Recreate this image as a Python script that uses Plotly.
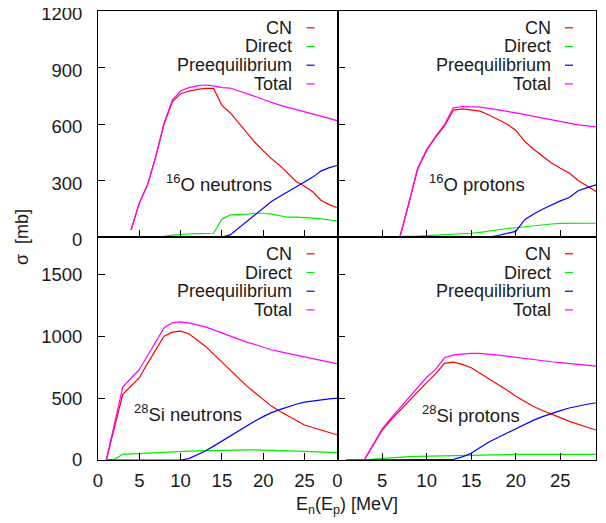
import plotly.graph_objects as go

# ---------------- data ----------------
E_O_n = list(range(4, 30))
O_n_CN = [37, 180, 277, 428, 600, 718, 761, 775, 784, 789, 789, 699, 660, 606, 553, 503,
          459, 416, 380, 340, 295, 270, 240, 195, 172, 155]
O_n_Direct = [0, 0, 0, 0, 3, 10, 14, 16, 18, 19, 20, 94, 117, 120, 121, 126,
              126, 121, 112, 105, 105, 104, 100, 96, 90, 85]
O_n_Pre = [0, 0, 0, 0, 0, 0, 0, 0, 0, 0, 0, 0, 11, 46, 82, 117,
           153, 188, 215, 242, 268, 292, 318, 350, 368, 381]
O_n_Total = [37, 180, 277, 428, 606, 727, 775, 793, 802, 807, 802, 793, 791, 777, 763, 747,
             730, 713, 700, 688, 677, 666, 655, 642, 630, 617]

E_O_p = list(range(4, 30))
O_p_CN = [0, 0, 0, 0, 178, 362, 460, 530, 590, 674, 680, 676, 668, 648, 624, 600,
          567, 508, 466, 428, 393, 365, 340, 300, 272, 242]
O_p_Direct = [0, 0, 2, 3, 4, 5, 7, 10, 13, 16, 18, 20, 25, 32, 40, 45,
              49, 55, 60, 66, 69, 72, 73, 73, 73, 73]
O_p_Pre = [0, 0, 0, 0, 0, 0, 0, 0, 0, 0, 0, 0, 0, 0, 8, 18,
           30, 92, 122, 147, 171, 192, 210, 246, 262, 277]
O_p_Total = [0, 0, 0, 0, 180, 366, 464, 535, 597, 686, 693, 693, 690, 683, 676, 668,
             659, 650, 641, 630, 620, 611, 603, 595, 590, 585]

E_Si_n = list(range(1, 30))
Si_n_CN = [0, 265, 530, 597, 664, 780, 895, 1000, 1032, 1040, 1019, 972, 919, 855, 790,
           722, 656, 598, 543, 488, 435, 393, 355, 318, 282, 262, 242, 222, 202]
Si_n_Direct = [0, 5, 46, 50, 54, 58, 62, 65, 68, 70, 72, 73, 75, 78, 80,
               83, 83, 82, 81, 80, 79, 77, 75, 72, 69, 66, 63, 61, 59]
Si_n_Pre = [0, 0, 0, 0, 0, 0, 0, 0, 0, 0, 11, 40, 73, 112, 153,
            196, 239, 278, 315, 350, 382, 407, 430, 450, 467, 478, 487, 494, 500]
Si_n_Total = [0, 295, 589, 660, 731, 842, 955, 1067, 1107, 1115, 1107, 1092, 1075, 1050, 1024,
              998, 973, 952, 932, 910, 890, 875, 860, 845, 830, 815, 802, 790, 777]

E_Si_p = list(range(1, 30))
Si_p_CN = [0, 0, 0, 120, 240, 325, 400, 478, 555, 625, 695, 780, 790, 772, 745,
           700, 660, 610, 565, 515, 470, 432, 400, 368, 342, 312, 288, 265, 242]
Si_p_Direct = [0, 0, 0, 7, 13, 20, 25, 28, 30, 32, 34, 36, 37, 38, 40,
               41, 42, 43, 44, 45, 46, 46, 46, 46, 46, 46, 46, 46, 46]
Si_p_Pre = [0, 0, 0, 0, 0, 0, 0, 0, 0, 0, 0, 0, 5, 25, 54,
            100, 145, 182, 218, 255, 290, 322, 350, 376, 398, 420, 437, 450, 462]
Si_p_Total = [0, 0, 0, 125, 250, 338, 420, 503, 585, 668, 731, 825, 848, 855, 860,
              860, 855, 847, 838, 828, 818, 808, 800, 793, 786, 779, 772, 765, 758]

series_names = ["CN", "Direct", "Preequilibrium", "Total"]
panel_labels = ["<sup>16</sup>O neutrons", "<sup>16</sup>O protons",
                "<sup>28</sup>Si neutrons", "<sup>28</sup>Si protons"]
label_pos = [(8, 288), (10, 288), (4.1, 381), (9.2, 369)]
top_ticks = [0, 300, 600, 900, 1200]
bottom_ticks = [0, 500, 1000, 1500]
x_ticks = [0, 5, 10, 15, 20, 25]

panels = [
    (E_O_n, [O_n_CN, O_n_Direct, O_n_Pre, O_n_Total]),
    (E_O_p, [O_p_CN, O_p_Direct, O_p_Pre, O_p_Total]),
    (E_Si_n, [Si_n_CN, Si_n_Direct, Si_n_Pre, Si_n_Total]),
    (E_Si_p, [Si_p_CN, Si_p_Direct, Si_p_Pre, Si_p_Total]),
]

colors = ["#ff0000", "#00ee00", "#0000ff", "#ff00ff"]

# ---------------- layout geometry (window pixels, page body has an 8px margin) ----------------
OFF = 8
W, H = 606 - OFF, 523 - OFF
FRAME_L, FRAME_R, FRAME_T, FRAME_B = 98, 596, 11, 460
SPLIT_X, SPLIT_Y = 337.5, 237
ML, MR, MT, MB = FRAME_L - OFF, W - (FRAME_R - OFF), FRAME_T - OFF, H - (FRAME_B - OFF)
PW, PH = W - ML - MR, H - MT - MB
xsplit = (SPLIT_X - FRAME_L) / PW
ysplit = (FRAME_B - SPLIT_Y) / PH
FONT = "Liberation Sans, Arial, sans-serif"
FS_TICK = 18.5
FS = 18

fig = go.Figure()

axis_ids = ["", "2", "3", "4"]
for i, (E, ys) in enumerate(panels):
    ax = axis_ids[i]
    for name, y, c in zip(series_names, ys, colors):
        fig.add_trace(go.Scatter(x=E, y=y, mode="lines", name=name,
                                 line=dict(color=c, width=1.2),
                                 xaxis="x" + ax, yaxis="y" + ax, showlegend=False))

common_axis = dict(showline=True, linecolor="black", linewidth=1, mirror=True,
                   ticks="inside", ticklen=7, tickwidth=1, tickcolor="black",
                   showgrid=False, zeroline=False, automargin=False,
                   ticklabeloverflow="allow",
                   tickfont=dict(family=FONT, size=FS_TICK, color="#1a1a1a"))

xdomains = [[0, xsplit], [xsplit, 1], [0, xsplit], [xsplit, 1]]
ydomains = [[ysplit, 1], [ysplit, 1], [0, ysplit], [0, ysplit]]
layout = dict(width=W, height=H, margin=dict(l=ML, r=MR, t=MT, b=MB, autoexpand=False),
              plot_bgcolor="white", paper_bgcolor="white", showlegend=False)
for i in range(4):
    ax = axis_ids[i]
    bottom = i >= 2
    left = i % 2 == 0
    layout["xaxis" + ax] = dict(common_axis, domain=xdomains[i], range=[0, 29],
                                anchor="y" + ax, tickvals=x_ticks,
                                showticklabels=bottom, ticklabelstandoff=4)
    layout["yaxis" + ax] = dict(common_axis, domain=ydomains[i],
                                range=[0, 1800] if bottom else [0, 1200],
                                anchor="x" + ax,
                                tickvals=bottom_ticks if bottom else top_ticks,
                                showticklabels=left, ticklabelstandoff=11,
                                ticklabelshift=0 if bottom else 3)
fig.update_layout(**layout)

annotations = []
shapes = []
for i in range(4):
    ax = axis_ids[i]
    pw = PW * (xdomains[i][1] - xdomains[i][0])
    ph = PH * (ydomains[i][1] - ydomains[i][0])
    # panel label
    annotations.append(dict(x=label_pos[i][0], y=label_pos[i][1], xref="x" + ax, yref="y" + ax,
                            text=panel_labels[i], showarrow=False, xanchor="left",
                            yanchor="middle", font=dict(family=FONT, size=18.5, color="#1a1a1a")))
    # legend (text right, sample on the right)
    for k, (name, c) in enumerate(zip(series_names, colors)):
        yy = 1 - (16.8 + 18.7 * k) / ph
        annotations.append(dict(x=1 - 43.5 / pw, y=yy, xref="x" + ax + " domain",
                                yref="y" + ax + " domain", text=name, showarrow=False,
                                xanchor="right", yanchor="middle",
                                font=dict(family=FONT, size=FS, color="#1a1a1a")))
        shapes.append(dict(type="line", xref="x" + ax + " domain", yref="y" + ax + " domain",
                           x0=1 - 31 / pw, x1=1 - 23 / pw, y0=yy, y1=yy,
                           line=dict(color=c, width=1.2)))

annotations.append(dict(x=(347 - FRAME_L) / PW, y=(FRAME_B - 505) / PH, xref="paper", yref="paper",
                        text="E<sub>n</sub>(E<sub>p</sub>) [MeV]", showarrow=False,
                        xanchor="center", yanchor="middle",
                        font=dict(family=FONT, size=FS, color="#1a1a1a")))
annotations.append(dict(x=(22 - FRAME_L) / PW, y=(FRAME_B - 237) / PH, xref="paper", yref="paper",
                        text="σ  [mb]", showarrow=False, textangle=-90,
                        xanchor="center", yanchor="middle",
                        font=dict(family=FONT, size=FS, color="#1a1a1a")))

fig.update_layout(annotations=annotations, shapes=shapes)
fig.write_html("out.html")
